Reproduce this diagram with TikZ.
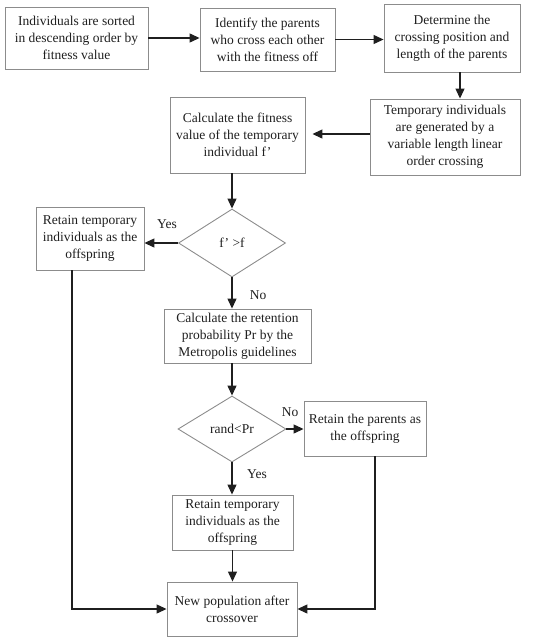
\documentclass[tikz,border=0pt]{standalone}
\usepackage{fontspec}
\setmainfont{Liberation Serif}
\usetikzlibrary{arrows.meta,shapes.geometric}
\definecolor{fcLine}{HTML}{8C8C8C}
\definecolor{fcInk}{HTML}{1F1F1F}

\begin{document}
\begin{tikzpicture}[
  x=1pt,y=-1pt,
  box/.style={draw=fcLine,line width=.9pt,align=center,inner sep=2pt,text=fcInk,font=\fontsize{13.5}{17}\selectfont},
  test/.style={diamond,draw=fcLine,line width=.9pt,inner sep=0pt,text=fcInk,font=\fontsize{13.5}{17}\selectfont},
  arr/.style={-{Triangle[length=10pt,width=9pt]},line width=1.2pt,draw=fcInk},
  lab/.style={font=\fontsize{13.5}{16}\selectfont,text=fcInk}
]
  \useasboundingbox (0,0) rectangle (550,640);
  % top row
  \node[box,minimum width=143pt,minimum height=62pt] (sort) at (76.5,38) {Individuals are sorted\\in descending order by\\fitness value};
  \node[box,minimum width=135pt,minimum height=63pt] (ident) at (267.5,39.5) {Identify the parents\\who cross each other\\with the fitness off};
  \node[box,minimum width=136pt,minimum height=68pt] (det) at (452,38) {Determine the\\crossing position and\\length of the parents};
  % second row
  \node[box,minimum width=150pt,minimum height=76pt] (tmp) at (445,137) {Temporary individuals\\are generated by a\\variable length linear\\order crossing};
  \node[box,minimum width=135pt,minimum height=76pt] (calc) at (237.5,135) {Calculate the fitness\\value of the temporary\\individual f'};
  % first test
  \node[test,minimum width=107pt,minimum height=68pt] (d1) at (232,243) {f' >f};
  \node[box,minimum width=108pt,minimum height=63pt] (ret1) at (90,238.5) {Retain temporary\\individuals as the\\offspring};
  \node[box,minimum width=147pt,minimum height=54pt] (prob) at (237.5,336) {Calculate the retention\\probability Pr by the\\Metropolis guidelines};
  % second test
  \node[test,minimum width=108pt,minimum height=66pt] (d2) at (232,429) {rand<Pr};
  \node[box,minimum width=122pt,minimum height=55pt] (par) at (365,428.5) {Retain the parents as\\the offspring};
  \node[box,minimum width=121pt,minimum height=55pt] (ret2) at (232.5,522.5) {Retain temporary\\individuals as the\\offspring};
  \node[box,minimum width=130pt,minimum height=54pt] (newpop) at (232,609) {New population after\\crossover};
  % labels
  \node[lab] (y1) at (167,224) {Yes};
  \node[lab] (n1) at (258,295) {No};
  \node[lab] (n2) at (290,412) {No};
  \node[lab] (y2) at (257,474) {Yes};
  % connectors
  \draw[arr] (sort.east) -- (sort.east -| ident.west);
  \draw[arr] (ident.east) -- (ident.east -| det.west);
  \draw[arr] ([xshift=8pt]det.south) -- ([xshift=8pt]det.south |- tmp.north);
  \draw[arr,shorten >=7pt] ([yshift=3pt]tmp.west) -- ([yshift=3pt]tmp.west -| calc.east);
  \draw[arr] (d1.north |- calc.south) -- (d1.north);
  \draw[arr] (d1.west) -- (d1.west -| ret1.east);
  \draw[arr] (d1.south) -- (d1.south |- prob.north);
  \draw[arr] (d2.north |- prob.south) -- (d2.north);
  \draw[arr] (d2.east) -- (d2.east -| par.west);
  \draw[arr] (d2.south) -- (d2.south |- ret2.north);
  \draw[arr] (ret2.south) -- (ret2.south |- newpop.north);
  \draw[arr] ([xshift=-18pt]ret1.south) |- (newpop.west);
  \draw[arr] ([xshift=10pt]par.south) |- (newpop.east);
\end{tikzpicture}
\end{document}
